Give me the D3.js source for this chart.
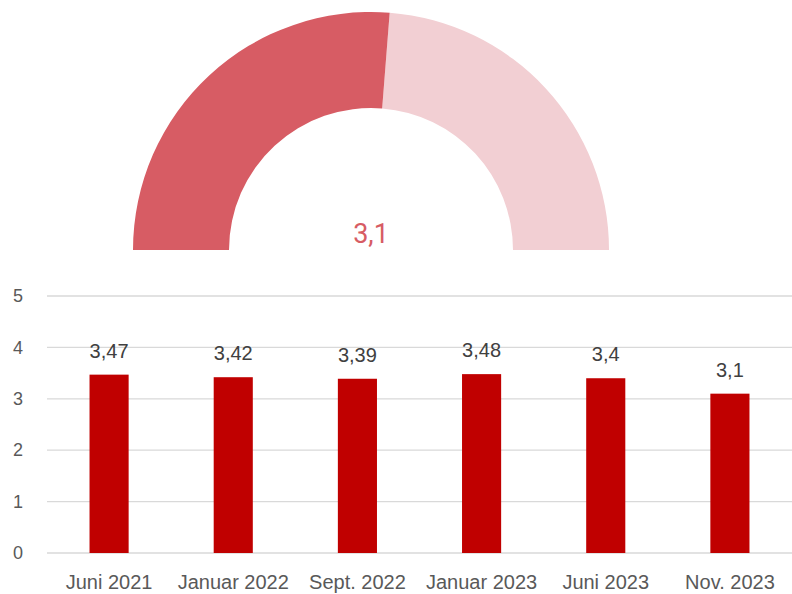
<!DOCTYPE html>
<html><head><meta charset="utf-8">
<script src="https://cdn.jsdelivr.net/npm/d3@7"></script>
<style>body{margin:0;background:#fff}svg{display:block}</style>
</head><body>
<svg id="c" width="792" height="594"></svg>
<script>
const categories = ["Juni 2021","Januar 2022","Sept. 2022","Januar 2023","Juni 2023","Nov. 2023"];
const values = [3.47,3.42,3.39,3.48,3.4,3.1];
const yTicks = [0,1,2,3,4,5];
const gaugeValue = 3.1;
const gaugeMin = 1, gaugeMax = 5;

const svg = d3.select("#c");
const fmt = v => String(v).replace(".", ",");

// Gauge
const gcx = 371, gcy = 250, rOut = 238, rIn = 142;
const ang = d3.scaleLinear().domain([gaugeMin, gaugeMax]).range([-Math.PI/2, Math.PI/2]);
const arc = d3.arc().innerRadius(rIn).outerRadius(rOut);
const g = svg.append("g").attr("transform", `translate(${gcx},${gcy})`);
g.append("path").attr("d", arc({startAngle: ang(gaugeValue), endAngle: ang(gaugeMax)})).attr("fill", "#F2CFD3");
g.append("path").attr("d", arc({startAngle: ang(gaugeMin), endAngle: ang(gaugeValue)})).attr("fill", "#D75C64");
g.append("text").attr("x", 0).attr("y", -7).attr("text-anchor", "middle")
  .style("font-family", "Roboto, sans-serif").style("font-size", "27px").attr("fill", "#D75C64")
  .text(fmt(gaugeValue));

// Bar chart
const x = d3.scaleBand().domain(categories).range([47, 792]).paddingInner(0.685).paddingOuter(0.3425);
const y = d3.scaleLinear().domain([0, 5]).range([553, 296]);
const font = "'Liberation Sans', sans-serif";

const grid = svg.append("g");
grid.selectAll("line").data(yTicks).join("line")
  .attr("x1", 47).attr("x2", 792).attr("y1", d => y(d)).attr("y2", d => y(d))
  .attr("stroke", "#D9D9D9").attr("stroke-width", 1.3);

const yAxis = d3.axisLeft(y).tickValues(yTicks).tickFormat(d3.format("d")).tickSize(0).tickPadding(0);
const ya = svg.append("g").attr("transform", "translate(23,0)").call(yAxis);
ya.select(".domain").remove();
ya.selectAll("text").style("font-family", font).style("font-size", "18px").attr("fill", "#595959");

svg.append("g").selectAll("rect").data(values).join("rect")
  .attr("x", (d,i) => x(categories[i])).attr("width", x.bandwidth())
  .attr("y", d => y(d)).attr("height", d => y(0) - y(d)).attr("fill", "#C00000");

svg.append("g").selectAll("text").data(values).join("text")
  .attr("x", (d,i) => x(categories[i]) + x.bandwidth()/2).attr("y", d => y(d) - 17)
  .attr("text-anchor", "middle").style("font-family", font).style("font-size", "20px")
  .attr("fill", "#404040").text(d => fmt(d));

const xAxis = d3.axisBottom(x).tickSize(0).tickPadding(0);
const xa = svg.append("g").attr("transform", "translate(0,553)").call(xAxis);
xa.select(".domain").remove();
xa.selectAll("text").attr("dy", null).attr("y", 36).style("font-family", font).style("font-size", "20px").attr("fill", "#595959");
</script>
</body></html>
